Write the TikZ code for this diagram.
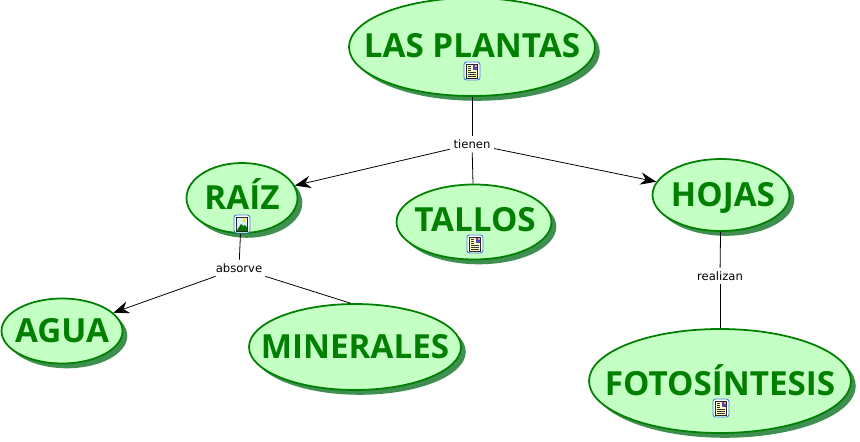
\documentclass[tikz,border=0pt]{standalone}
\usepackage{fontspec}
\setmainfont{DejaVu Sans}
\newfontfamily\titlefont{Open Sans}
\usetikzlibrary{arrows.meta,shapes.geometric,shadows}
\definecolor{conceptfill}{HTML}{C4FFC4}
\definecolor{conceptgreen}{HTML}{007F00}
\definecolor{conceptshadow}{HTML}{3F9050}
\definecolor{iconblue}{HTML}{3C7FD0}
\tikzset{
  concept/.style={ellipse,draw=conceptgreen,line width=1pt,fill=conceptfill,inner sep=0pt,
    drop shadow={shift={(0.08,-0.08)},opacity=1,fill=conceptshadow}},
  conceptname/.style={anchor=base,inner sep=0pt,text=conceptgreen,
    font=\titlefont\bfseries\fontsize{18.9}{20}\selectfont},
  linklabel/.style={font=\fontsize{6.6}{8}\selectfont,inner sep=2pt,text=black},
  linkline/.style={draw=black,line width=0.45pt},
  linkarrow/.style={linkline,-{Stealth[length=9pt,width=7pt]}},
  docicon/.pic={
    \draw[draw=iconblue,fill=white,line width=0.5pt,rounded corners=1.5pt] (-8,-9) rectangle (8,9);
    \draw[draw=black!85,fill=yellow!25,line width=0.4pt] (-5.5,-7) rectangle (5.5,7);
    \fill[blue!40!gray] (0.5,-5.5) rectangle (4.5,-1);
    \fill[red!40!white] (2.5,-5.5) rectangle (4.5,-3.5);
    \foreach \ly in {-5,-3,-1}{
      \draw[black!80,line width=0.35pt] (-4,\ly) -- (-0.8,\ly);
    }
    \foreach \ly in {1.2,3.2,5.2}{
      \draw[black!80,line width=0.35pt] (-4,\ly) -- (4,\ly);
    }
  },
  imageicon/.pic={
    \draw[draw=iconblue,fill=white,line width=0.5pt,rounded corners=1.5pt] (-8,-9) rectangle (8,9);
    \draw[draw=black!85,fill=cyan!15,line width=0.4pt] (-5.5,-7) rectangle (5.5,7);
    \fill[yellow!80!orange] (2,-3.5) circle (1.8);
    \fill[green!45!black] (-5.3,6.8) -- (-1,0) -- (1.5,2.5) -- (3,1) -- (5.3,4) -- (5.3,6.8) -- cycle;
  }
}
\begin{document}
\begin{tikzpicture}[x=0.02cm,y=-0.02cm,>=Stealth]
\useasboundingbox (0,0) rectangle (860,442);
% ---------- conceptos ----------
\node[concept,minimum width=4.92cm,minimum height=1.96cm] (plantas) at (472,47) {};
\node[concept,minimum width=2.22cm,minimum height=1.40cm] (raiz) at (242,198) {};
\node[concept,minimum width=3.10cm,minimum height=1.50cm] (tallos) at (474,222) {};
\node[concept,minimum width=2.74cm,minimum height=1.44cm] (hojas) at (721,195) {};
\node[concept,minimum width=2.42cm,minimum height=1.30cm] (agua) at (62,331) {};
\node[concept,minimum width=4.24cm,minimum height=1.72cm] (minerales) at (355,347) {};
\node[concept,minimum width=5.24cm,minimum height=2.08cm] (fotosintesis) at (720,381) {};
% ---------- nombres ----------
\node[conceptname] (plantasname) at (472,58) {LAS PLANTAS};
\node[conceptname] (raizname) at (242,210) {RAÍZ};
\node[conceptname] (tallosname) at (475,232) {TALLOS};
\node[conceptname] (hojasname) at (723,207) {HOJAS};
\node[conceptname] (aguaname) at (62,343) {AGUA};
\node[conceptname] (mineralesname) at (355,359) {MINERALES};
\node[conceptname] (fotosintesisname) at (720,396) {FOTOSÍNTESIS};
% ---------- frases de enlace ----------
\node[linklabel] (tienen) at (472,144) {tienen};
\node[linklabel] (absorve) at (239,268) {absorve};
\node[linklabel] (realizan) at (720,276) {realizan};
% ---------- conectores ----------
\draw[linkline] (plantas) -- (tienen);
\draw[linkarrow] (tienen) -- (raiz);
\draw[linkline] (tienen) -- (tallos);
\draw[linkarrow] (tienen) -- (hojas);
\draw[linkline] (raiz) -- (absorve);
\draw[linkarrow] (absorve) -- (agua);
\draw[linkline] (absorve) -- (minerales.96);
\draw[linkline] (hojas) -- (realizan);
\draw[linkline] (realizan) -- (fotosintesis);
% ---------- iconos ----------
\foreach \ix/\iy in {472/71, 475/244, 721/408}{
  \pic at (\ix,\iy) {docicon};
}
\pic at (242,224) {imageicon};
\end{tikzpicture}
\end{document}
